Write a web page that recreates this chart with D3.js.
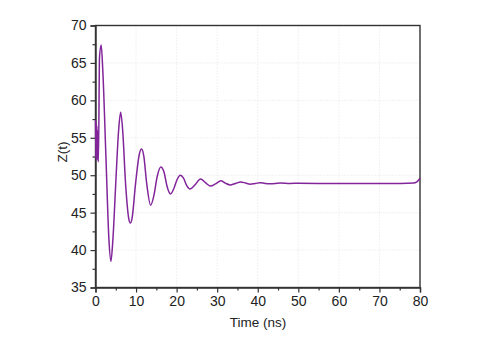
<!DOCTYPE html>
<html>
<head>
<meta charset="utf-8">
<script src="https://cdn.jsdelivr.net/npm/d3@7"></script>
<style>
  body { margin: 0; background: #fff; }
  text { font-family: 'Liberation Sans', Arial, sans-serif; fill: #222; }
</style>
</head>
<body>
<div id="chart"></div>
<script>
// time (ns) and Z(t)
var timeNs = [0, 0.08, 0.16, 0.25, 0.33, 0.42, 0.5, 0.6, 0.72, 0.99, 1.4, 1.8, 2.6, 3.3, 3.8, 4.3, 5.0, 5.7, 6.2, 6.7,
  7.4, 8.2, 8.6, 9.0, 9.9, 10.8, 11.35, 11.9, 12.6, 13.6, 14.4, 15.2, 16.1, 16.9, 17.6, 18.5, 19.3, 20.1, 20.9,
  21.7, 22.5, 23.3, 24.5, 25.9, 27.1, 28.4, 29.6, 30.9, 32.0, 33.2, 34.5, 35.8, 37.0, 38.1, 39.4, 40.6, 41.8,
  43.1, 45.5, 48, 50, 55, 60, 65, 70, 75, 78.3, 79.3, 80];
var zValues = [57.4, 52.3, 57.0, 52.0, 56.6, 52.2, 56.0, 52.5, 51.8, 65.8, 67.4, 64, 52, 41.5, 38.5, 41.5, 49, 56, 58.4, 56,
  49, 44.2, 43.6, 44.2, 49, 52.8, 53.5, 52.6, 49, 46.0, 47.3, 49.8, 51.1, 50.4, 48.6, 47.5, 48.2, 49.4, 50.0,
  49.6, 48.6, 48.15, 48.7, 49.5, 49.0, 48.55, 48.85, 49.25, 48.95, 48.7, 48.9, 49.1, 48.95, 48.8, 48.9, 49.0, 48.9,
  48.85, 48.95, 48.9, 48.92, 48.9, 48.9, 48.88, 48.88, 48.9, 48.95, 49.15, 49.6];

var xTicks = [0, 10, 20, 30, 40, 50, 60, 70, 80];
var xMinor = [5, 15, 25, 35, 45, 55, 65, 75];
var yTicks = [35, 40, 45, 50, 55, 60, 65, 70];
var yMinor = [37.5, 42.5, 47.5, 52.5, 57.5, 62.5, 67.5];

var svgWidth = 485;
var svgHeight = 346;
var margin = { left: 95.5, right: 65, top: 25.5, bottom: 58.5 };
var width = svgWidth - margin.left - margin.right;
var height = svgHeight - margin.top - margin.bottom;

var svg = d3.select('#chart').append('svg')
  .attr('width', svgWidth)
  .attr('height', svgHeight);
var g = svg.append('g')
  .attr('transform', 'translate(' + margin.left + ', ' + margin.top + ')');

var xScale = d3.scaleLinear().domain([0, 80]).range([0, width]);
var yScale = d3.scaleLinear().domain([35, 70]).range([height, 0]);

// dotted grid
g.selectAll('.gx').data(xTicks.slice(1, -1)).enter().append('line')
  .attr('x1', function (d) { return xScale(d); })
  .attr('x2', function (d) { return xScale(d); })
  .attr('y1', 0).attr('y2', height)
  .attr('stroke', '#ddd').attr('stroke-width', 0.8).attr('stroke-dasharray', '1,2');
g.selectAll('.gy').data(yTicks.slice(1, -1)).enter().append('line')
  .attr('y1', function (d) { return yScale(d); })
  .attr('y2', function (d) { return yScale(d); })
  .attr('x1', 0).attr('x2', width)
  .attr('stroke', '#ddd').attr('stroke-width', 0.8).attr('stroke-dasharray', '1,2');

// frame
g.append('rect')
  .attr('width', width).attr('height', height)
  .attr('fill', 'none').attr('stroke', '#333').attr('stroke-width', 1.4);

var xAxis = d3.axisBottom(xScale).tickValues(xTicks).tickSize(5).tickPadding(4);
var yAxis = d3.axisLeft(yScale).tickValues(yTicks).tickSize(5).tickPadding(4);

var gx = g.append('g').attr('transform', 'translate(0, ' + height + ')').call(xAxis);
var gy = g.append('g').call(yAxis);
[gx, gy].forEach(function (a) {
  a.select('.domain').attr('stroke', '#333').attr('stroke-width', 1.4);
  a.selectAll('.tick line').attr('stroke', '#333').attr('stroke-width', 1.2);
  a.selectAll('.tick text').style('font-size', '14px').attr('fill', '#222');
});

g.append('g').attr('transform', 'translate(0, ' + height + ')')
  .call(d3.axisBottom(xScale).tickValues(xMinor).tickSize(3).tickFormat(''))
  .call(function (s) {
    s.select('.domain').remove();
    s.selectAll('line').attr('stroke', '#333').attr('stroke-width', 1.2);
  });
g.append('g')
  .call(d3.axisLeft(yScale).tickValues(yMinor).tickSize(3).tickFormat(''))
  .call(function (s) {
    s.select('.domain').remove();
    s.selectAll('line').attr('stroke', '#333').attr('stroke-width', 1.2);
  });

var line = d3.line()
  .x(function (d, i) { return xScale(timeNs[i]); })
  .y(function (d) { return yScale(d); })
  .curve(d3.curveMonotoneX);

g.append('path')
  .datum(zValues)
  .attr('fill', 'none')
  .attr('stroke', '#82259a')
  .attr('stroke-width', 1.5)
  .attr('d', line);

svg.append('text')
  .attr('x', 258).attr('y', 327)
  .attr('text-anchor', 'middle')
  .style('font-size', '13.5px')
  .text('Time (ns)');

svg.append('text')
  .attr('transform', 'translate(67, 152) rotate(-90)')
  .attr('text-anchor', 'middle')
  .style('font-size', '13.5px')
  .text('Z(t)');
</script>
</body>
</html>
